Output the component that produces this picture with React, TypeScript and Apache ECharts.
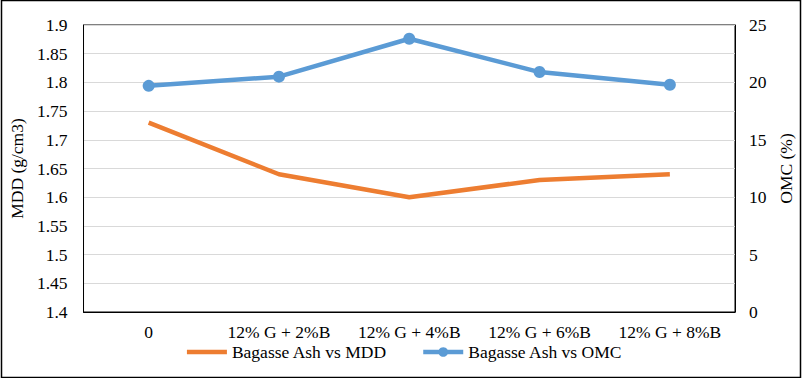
import React, { useEffect, useRef } from "react";
import * as echarts from "echarts";

const categories = ["0", "12% G + 2%B", "12% G + 4%B", "12% G + 6%B", "12% G + 8%B"];
const mddValues = [1.73, 1.64, 1.6, 1.63, 1.64];
const omcValues = [19.7, 20.5, 23.8, 20.9, 19.8];
const seriesNames = ["Bagasse Ash vs MDD", "Bagasse Ash vs OMC"];

const FONT = "Liberation Serif";
const FS = 17.5;

export default function App() {
  const ref = useRef<HTMLDivElement>(null);
  useEffect(() => {
    document.body.style.margin = "0";
    const chart = echarts.init(ref.current!, undefined, { renderer: "svg" });
    chart.setOption({
      animation: false,
      backgroundColor: "#fff",
      textStyle: { fontFamily: FONT, color: "#000" },
      grid: { left: 78, right: 72, top: 25, bottom: 66, show: true, borderColor: "#000", borderWidth: 1 },
      legend: {
        bottom: 12,
        left: "center",
        itemWidth: 40,
        itemHeight: 12,
        itemGap: 34,
        lineStyle: { width: 4.5 },
        textStyle: { fontFamily: FONT, fontSize: FS, color: "#000" },
        data: [
          { name: seriesNames[0], itemStyle: { opacity: 0 } },
          { name: seriesNames[1] },
        ],
      },
      xAxis: {
        type: "category",
        data: categories,
        axisLine: { lineStyle: { color: "#000" } },
        axisTick: { show: false },
        axisLabel: { fontFamily: FONT, fontSize: FS, color: "#000", margin: 11, interval: 0 },
      },
      yAxis: [
        {
          type: "value",
          min: 1.4,
          max: 1.9,
          interval: 0.05,
          name: "MDD (g/cm3)",
          nameLocation: "middle",
          nameRotate: 90,
          nameGap: 57,
          nameTextStyle: { fontFamily: FONT, fontSize: FS, color: "#000" },
          axisLine: { show: true, lineStyle: { color: "#000" } },
          axisTick: { show: false },
          axisLabel: { fontFamily: FONT, fontSize: FS, color: "#000", margin: 16, formatter: (v: number) => String(Math.round(v * 100) / 100) },
          splitLine: { lineStyle: { color: "#d9d9d9" } },
        },
        {
          type: "value",
          min: 0,
          max: 25,
          interval: 5,
          name: "OMC (%)",
          nameLocation: "middle",
          nameRotate: 90,
          nameGap: 41,
          nameTextStyle: { fontFamily: FONT, fontSize: FS, color: "#000" },
          axisLine: { show: true, lineStyle: { color: "#000" } },
          axisTick: { show: false },
          axisLabel: { fontFamily: FONT, fontSize: FS, color: "#000", margin: 14 },
          splitLine: { show: false },
        },
      ],
      series: [
        {
          name: seriesNames[0],
          type: "line",
          yAxisIndex: 0,
          data: mddValues,
          symbol: "none",
          lineStyle: { color: "#ED7D31", width: 4.5 },
          itemStyle: { color: "#ED7D31" },
        },
        {
          name: seriesNames[1],
          type: "line",
          yAxisIndex: 1,
          data: omcValues,
          symbol: "circle",
          symbolSize: 12,
          lineStyle: { color: "#5B9BD5", width: 4.5 },
          itemStyle: { color: "#5B9BD5" },
        },
      ],
      graphic: [
        {
          type: "rect",
          shape: { x: 1.5, y: 0.5, width: 799, height: 377 },
          style: { fill: "none", stroke: "#000", lineWidth: 1.5 },
          silent: true,
        },
      ],
    });
    return () => chart.dispose();
  }, []);
  return <div ref={ref} style={{ width: 807, height: 378 }} />;
}
